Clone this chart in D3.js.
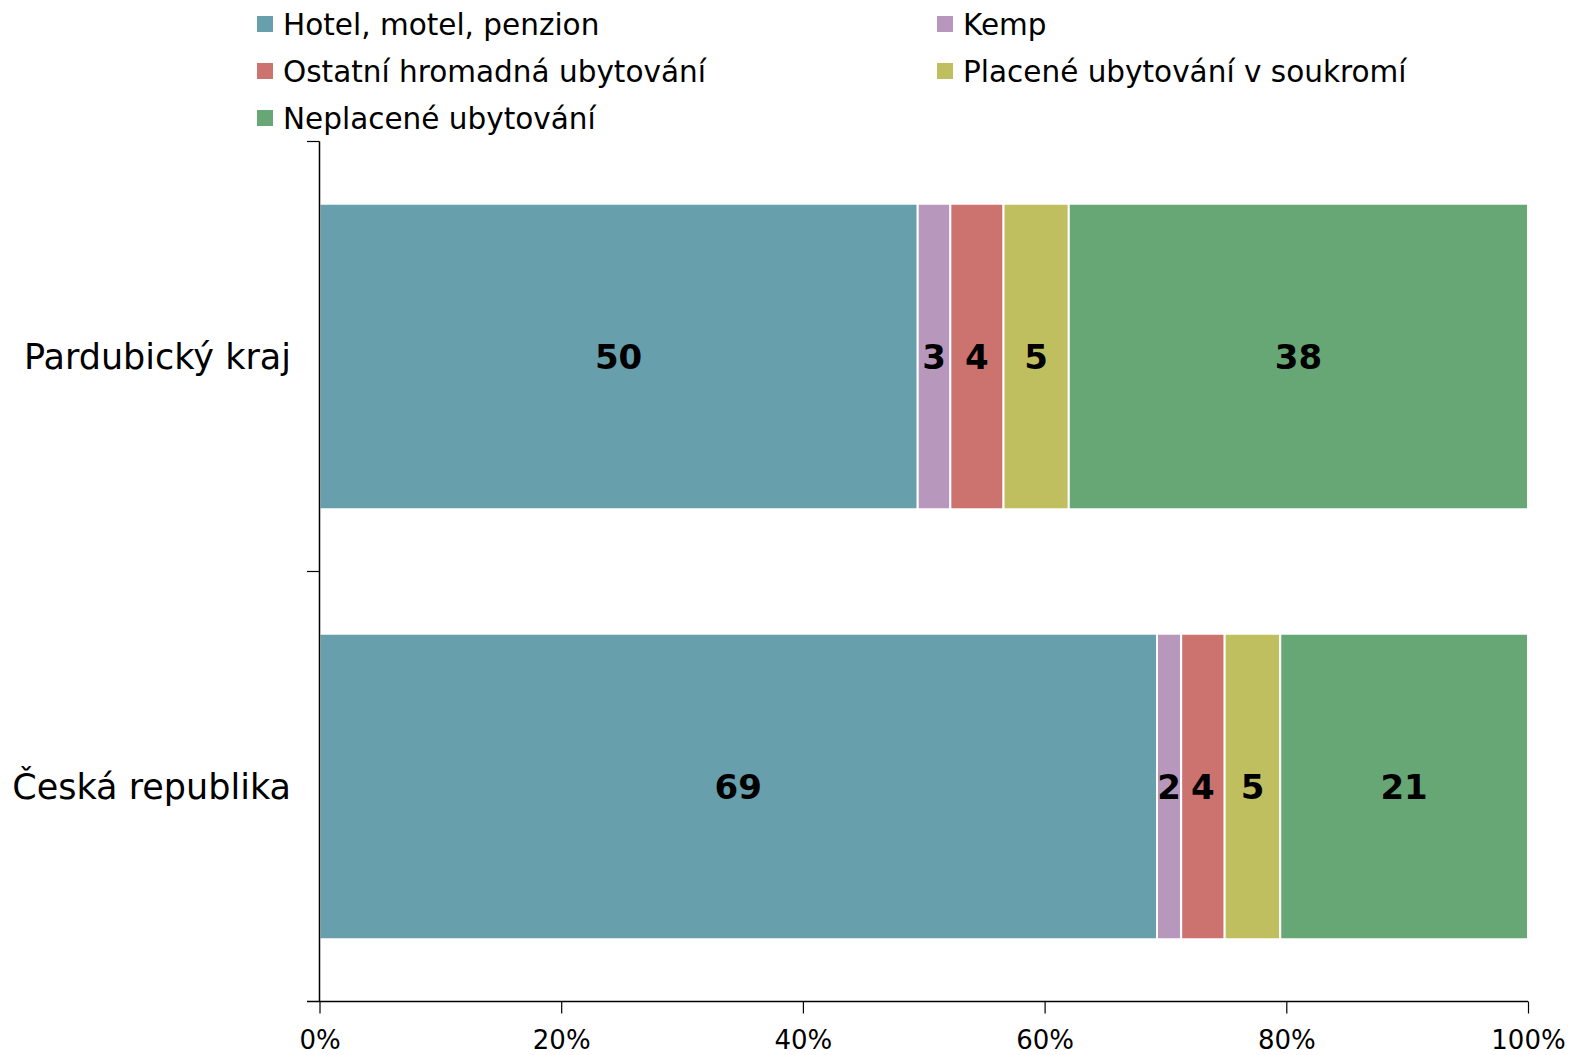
<!DOCTYPE html>
<html><head><meta charset="utf-8">
<script src="https://d3js.org/d3.v7.min.js"></script>
<style>
html,body{margin:0;padding:0;background:#fff;}
svg{display:block;font-family:"DejaVu Sans",Verdana,sans-serif;}
</style></head>
<body>
<svg id="chart" width="1572" height="1055"></svg>
<script>
const categories = ["Pardubický kraj", "Česká republika"];
const seriesNames = ["Hotel, motel, penzion", "Kemp", "Ostatní hromadná ubytování", "Placené ubytování v soukromí", "Neplacené ubytování"];
const hotel = [49.5, 69.3];
const kemp = [2.7, 2.0];
const ostatni = [4.4, 3.6];
const placene = [5.4, 4.6];
const neplacene = [38.0, 20.5];
const tickValues = [0, 20, 40, 60, 80, 100];
const colors = ["#689FAC", "#B897BD", "#CC736F", "#BFBF60", "#67A775"];

(function () {
const seriesValues = [hotel, kemp, ostatni, placene, neplacene];
const rows = categories.map((c, i) => {
  const o = {cat: c};
  seriesNames.forEach((s, j) => o[s] = seriesValues[j][i]);
  return o;
});

const svg = d3.select("#chart");
const mLeft = 319.5, mRight = 1528, mTop = 141.5, mBottom = 1001.5;
const x = d3.scaleLinear().domain([0, 100]).range([mLeft, mRight]);
const y = d3.scaleBand().domain(categories).range([mTop, mBottom]).paddingInner(0.2895).paddingOuter(0.14475);
const color = d3.scaleOrdinal().domain(seriesNames).range(colors);

const stack = d3.stack().keys(seriesNames)(rows);

const g = svg.append("g");
stack.forEach(layer => {
  g.selectAll(null).data(layer).enter().append("rect")
    .attr("x", d => x(d[0]))
    .attr("y", d => y(d.data.cat))
    .attr("width", d => x(d[1]) - x(d[0]))
    .attr("height", y.bandwidth())
    .attr("fill", color(layer.key))
    .attr("stroke", "#fff")
    .attr("stroke-width", 2);
});
stack.forEach(layer => {
  g.selectAll(null).data(layer).enter().append("text")
    .attr("x", d => (x(d[0]) + x(d[1])) / 2)
    .attr("y", d => y(d.data.cat) + y.bandwidth() / 2)
    .attr("dy", "0.36em")
    .attr("text-anchor", "middle")
    .attr("font-size", 34)
    .attr("font-weight", "bold")
    .attr("fill", "#000")
    .text(d => Math.round(d[1] - d[0]));
});

// axes
const xAxis = d3.axisBottom(x).tickValues(tickValues).tickFormat(d => d + "%").tickSize(12).tickSizeOuter(0);
const xg = svg.append("g").attr("transform", `translate(0,${mBottom})`).call(xAxis);
xg.select(".domain").remove();
xg.append("line").attr("x1", 307).attr("x2", mRight).attr("y1", 0).attr("y2", 0).attr("stroke", "#000").attr("stroke-width", 1.5);
xg.selectAll(".tick line").attr("stroke", "#000").attr("stroke-width", 1.2);
xg.selectAll(".tick text").attr("font-size", 26).attr("fill", "#000").attr("y", 38).attr("dy", "0.36em")
  .attr("font-family", "DejaVu Sans, Verdana, sans-serif");

const yg = svg.append("g");
yg.append("line").attr("x1", mLeft).attr("x2", mLeft).attr("y1", mTop).attr("y2", mBottom).attr("stroke", "#000").attr("stroke-width", 1.5);
[mTop, (mTop + mBottom) / 2].forEach(v => {
  yg.append("line").attr("x1", 307).attr("x2", mLeft).attr("y1", v).attr("y2", v).attr("stroke", "#000").attr("stroke-width", 1.2);
});
yg.selectAll(null).data(categories).enter().append("text")
  .attr("x", 291)
  .attr("y", d => y(d) + y.bandwidth() / 2)
  .attr("dy", "0.36em")
  .attr("text-anchor", "end")
  .attr("font-size", 35)
  .attr("fill", "#000")
  .text(d => d);

// legend
const legendPos = [[257, 24], [937, 24], [257, 71], [937, 71], [257, 118]];
const lg = svg.append("g");
seriesNames.forEach((s, i) => {
  const [lx, ly] = legendPos[i];
  lg.append("rect").attr("x", lx).attr("y", ly - 8).attr("width", 16).attr("height", 16).attr("fill", colors[i]);
  lg.append("text").attr("x", lx + 26).attr("y", ly).attr("dy", "0.36em").attr("font-size", 29.5).attr("fill", "#000").text(s);
});
})();
</script>
</body></html>
